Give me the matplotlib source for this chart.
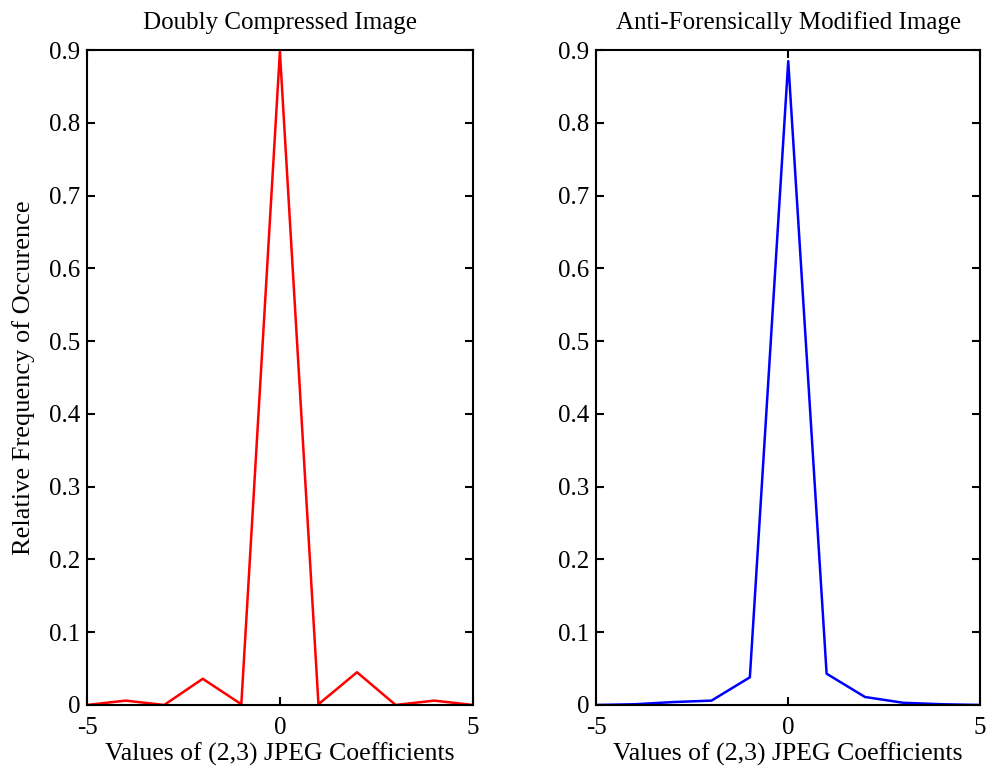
import numpy as np
import matplotlib.pyplot as plt

# coefficient values and relative frequencies
coef = [-5, -4, -3, -2, -1, 0, 1, 2, 3, 4, 5]
freq_double = [0.0, 0.006, 0.0, 0.036, 0.001, 0.898, 0.001, 0.045, 0.0, 0.006, 0.0]
freq_anti = [0.0, 0.001, 0.004, 0.006, 0.038, 0.885, 0.043, 0.011, 0.003, 0.001, 0.0]

titles = ['Doubly Compressed Image', 'Anti-Forensically Modified Image']
xlabel = 'Values of (2,3) JPEG Coefficients'
ylabel = 'Relative Frequency of Occurence'
yticks = [0, 0.1, 0.2, 0.3, 0.4, 0.5, 0.6, 0.7, 0.8, 0.9]
yticklabels = ['0', '0.1', '0.2', '0.3', '0.4', '0.5', '0.6', '0.7', '0.8', '0.9']

plt.rcParams['font.family'] = ['Liberation Serif', 'DejaVu Serif']
plt.rcParams['axes.unicode_minus'] = False

fig = plt.figure(figsize=(9.89, 7.73), dpi=100)
ax1 = fig.add_axes([0.088, 0.088, 0.390, 0.847])
ax2 = fig.add_axes([0.603, 0.088, 0.388, 0.847])

for ax, y, c, t in [(ax1, freq_double, 'red', titles[0]),
                    (ax2, freq_anti, 'blue', titles[1])]:
    ax.plot(coef, y, color=c, linewidth=1.8)
    ax.set_xlim(-5, 5)
    ax.set_ylim(0, 0.9)
    ax.set_xticks([-5, 0, 5])
    ax.set_yticks(yticks)
    ax.set_yticklabels(yticklabels)
    ax.tick_params(direction='in', top=True, right=True, length=6, width=1.5,
                   labelsize=18)
    ax.tick_params(axis='y', pad=5)
    ax.tick_params(axis='x', pad=9)
    for s in ax.spines.values():
        s.set_linewidth(1.5)
    ax.set_title(t, fontsize=18, pad=15)
    ax.set_xlabel(xlabel, fontsize=18.5, labelpad=2)

ax1.set_ylabel(ylabel, fontsize=19, labelpad=10)

fig.savefig('out.png', dpi=100)
